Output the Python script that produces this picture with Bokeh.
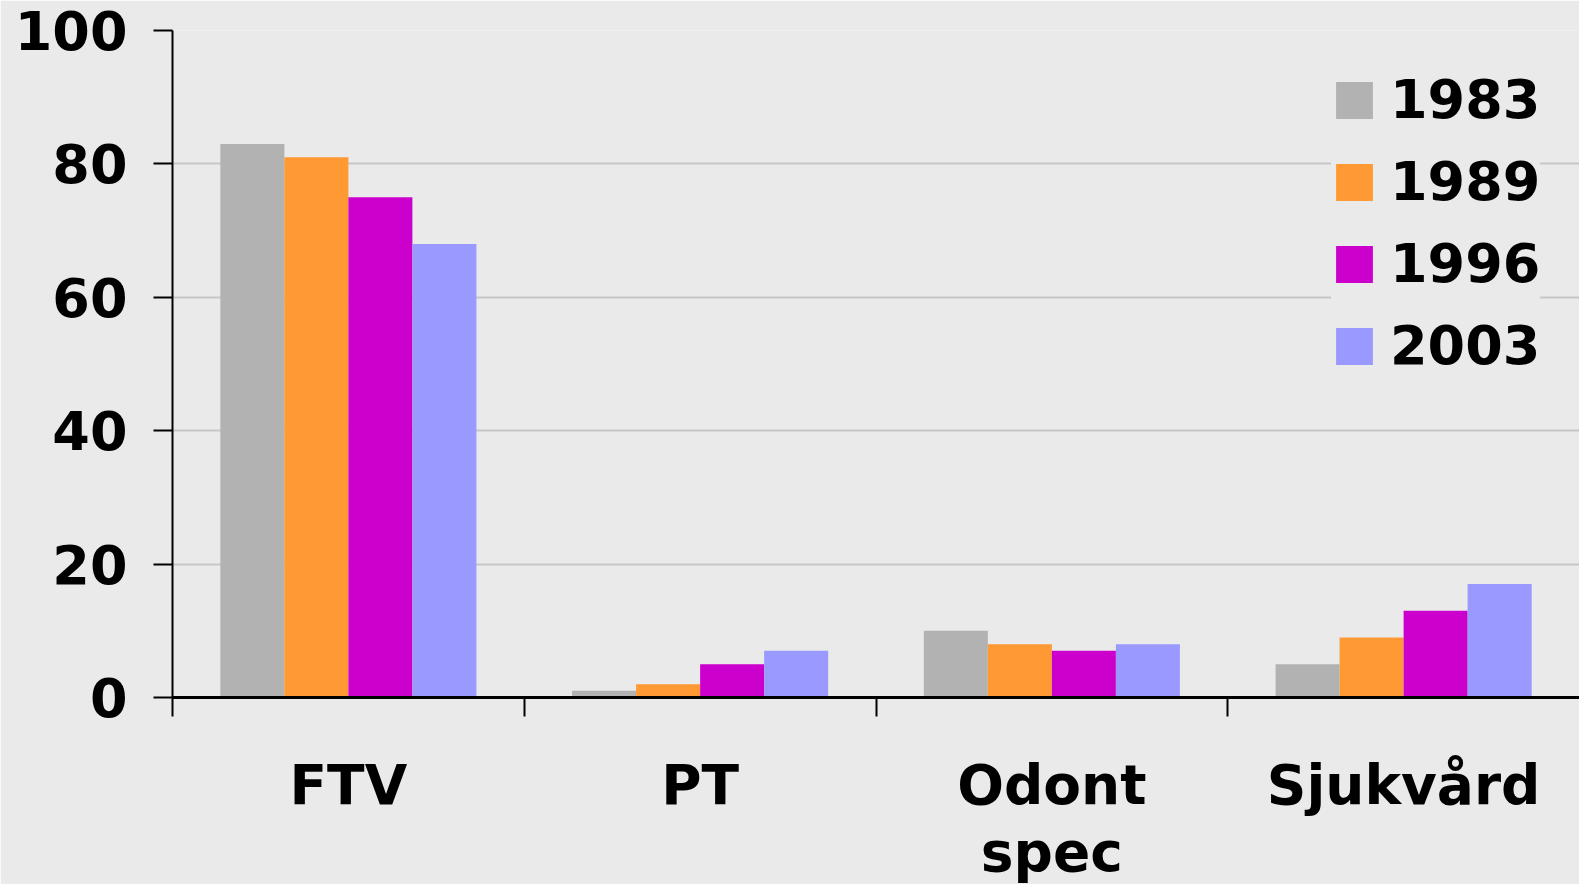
from bokeh.plotting import figure
from bokeh.models import Range1d, FixedTicker, Legend, LegendItem, ColumnDataSource
from bokeh.embed import file_html
from bokeh.resources import INLINE

categories = ["FTV", "PT", "Odont\nspec", "Sjukvård"]
years = ["1983", "1989", "1996", "2003"]
v1983 = [83, 1, 10, 5]
v1989 = [81, 2, 8, 9]
v1996 = [75, 5, 7, 13]
v2003 = [68, 7, 8, 17]
colors = ["#B2B2B2", "#FF9933", "#CC00CC", "#9999FF"]
y_ticks = [0, 20, 40, 60, 80, 100]

series = [v1983, v1989, v1996, v2003]
BG = "#EAEAEA"
FONT = "DejaVu Sans"

p = figure(frame_width=1407, frame_height=667,
           x_range=Range1d(0, len(categories)), y_range=Range1d(0, 100),
           output_backend="svg", toolbar_location=None,
           min_border_left=172, min_border_right=0, min_border_top=30, min_border_bottom=186)
p.background_fill_color = BG
p.border_fill_color = BG
p.outline_line_color = None

bar_w = 0.182
items = []
for k, (yr, vals, col) in enumerate(zip(years, series, colors)):
    xs = [i + 0.5 + (k - 1.5) * bar_w for i in range(len(categories))]
    src = ColumnDataSource(dict(x=xs, top=vals))
    r = p.vbar(x="x", top="top", width=bar_w, bottom=0, source=src,
               fill_color=col, line_color=None)
    items.append(LegendItem(label=yr, renderers=[r]))

# y axis
p.yaxis.ticker = FixedTicker(ticks=y_ticks)
p.yaxis.axis_line_color = "black"
p.yaxis.axis_line_width = 2
p.yaxis.major_tick_line_color = "black"
p.yaxis.major_tick_line_width = 2
p.yaxis.major_tick_out = 19
p.yaxis.major_tick_in = 0
p.yaxis.minor_tick_line_color = None
p.yaxis.major_label_text_font = FONT
p.yaxis.major_label_text_font_style = "bold"
p.yaxis.major_label_text_font_size = "54px"
p.yaxis.major_label_text_color = "black"
p.yaxis.major_label_standoff = 26

# x axis: labels at category centres, ticks at category boundaries
centres = [i + 0.5 for i in range(len(categories))]
bounds = [float(i) for i in range(len(categories))]
p.xaxis.ticker = FixedTicker(ticks=centres, minor_ticks=bounds)
p.xaxis.major_label_overrides = {c: lab for c, lab in zip(centres, categories)}
p.xaxis.axis_line_color = "black"
p.xaxis.axis_line_width = 3
p.xaxis.major_tick_line_color = None
p.xaxis.major_tick_out = 0
p.xaxis.major_tick_in = 0
p.xaxis.minor_tick_line_color = "black"
p.xaxis.minor_tick_line_width = 2
p.xaxis.minor_tick_out = 19
p.xaxis.minor_tick_in = 0
p.xaxis.major_label_text_font = FONT
p.xaxis.major_label_text_font_style = "bold"
p.xaxis.major_label_text_font_size = "55px"
p.xaxis.major_label_text_color = "black"
p.xaxis.major_label_text_line_height = 1.05
p.xaxis.major_label_standoff = 36
p.xaxis.major_label_orientation = "horizontal"

p.xgrid.grid_line_color = None
p.ygrid.ticker = FixedTicker(ticks=y_ticks)
p.ygrid.grid_line_color = "#C6C6C6"
p.ygrid.grid_line_width = 2

legend = Legend(items=items, location=(1159, 320))
legend.background_fill_color = BG
legend.background_fill_alpha = 1
legend.border_line_color = None
legend.label_text_font = FONT
legend.label_text_font_style = "bold"
legend.label_text_font_size = "54px"
legend.label_text_color = "black"
legend.glyph_width = 46
legend.glyph_height = 46
legend.label_standoff = 13
legend.spacing = 19
legend.padding = 20
legend.margin = 0
p.add_layout(legend)

open("out.html", "w").write(file_html(p, INLINE))
